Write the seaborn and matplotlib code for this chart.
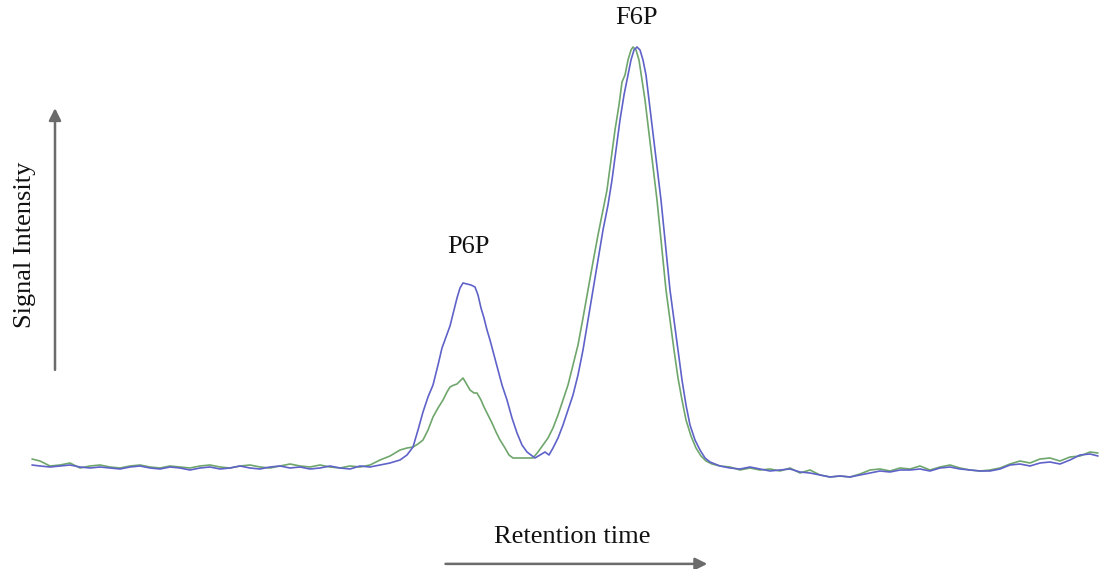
"""Chromatogram overlay: P6P and F6P peaks."""

import matplotlib

matplotlib.use("Agg")
import matplotlib.pyplot as plt
import numpy as np
import pandas as pd
import seaborn as sns

# retention time (arbitrary units) and signal intensity
left_time = [32, 40, 50, 60, 70, 80, 90, 100, 110, 120, 130, 140, 150, 160, 170, 180,
             190, 200, 210, 220, 230, 240, 250, 260, 270, 280, 290, 300, 310, 320, 330,
             340, 350, 360, 370, 380]
right_time = [730, 740, 750, 760, 770, 780, 790, 800, 810, 820, 830, 840, 850, 860, 870,
              880, 890, 900, 910, 920, 930, 940, 950, 960, 970, 980, 990, 1000, 1010,
              1020, 1030, 1040, 1050, 1060, 1070, 1080, 1090, 1098]

blue_peak_time = [390, 400, 407, 413, 418, 423, 428, 433, 438, 442, 446, 450, 454, 457,
                  460, 463, 467, 471, 475, 478, 481, 484, 487, 490, 494, 498, 502, 507,
                  512, 517, 522, 527, 531, 535, 540, 545, 549, 553, 558, 563, 568, 573,
                  578, 583, 588, 593, 598, 603, 608, 612, 616, 620, 624, 628, 631, 634,
                  637, 640, 643, 646, 649, 652, 655, 658, 661, 664, 667, 670, 674, 678,
                  682, 686, 690, 695, 700, 705, 710, 715, 720]
blue_left = [5, 4, 3, 4, 5, 3, 2, 3, 2, 1, 3, 4, 2, 1, 3, 2, 0, 2, 3, 1, 2, 4, 2, 1, 3,
             4, 2, 3, 1, 2, 4, 2, 1, 4, 3, 5]
blue_peak = [7, 10, 15, 23, 40, 58, 73, 85, 105, 122, 133, 144, 160, 172, 182, 187, 186,
             185, 183, 175, 162, 152, 140, 130, 115, 100, 85, 70, 52, 37, 25, 18, 15, 12,
             15, 18, 15, 22, 32, 45, 60, 75, 95, 120, 150, 180, 210, 240, 265, 290, 320,
             350, 375, 395, 410, 420, 423, 420, 410, 395, 370, 345, 320, 295, 270, 240,
             210, 180, 150, 120, 90, 65, 45, 30, 20, 12, 8, 6, 4]
blue_right = [2, 1, 3, 1, -1, 0, 1, -2, -3, -5, -7, -6, -7, -5, -3, -1, -2, 0, 0, 1, -1,
              2, 3, 1, 0, -1, -1, 1, 5, 6, 4, 7, 8, 6, 10, 15, 16, 14]

green_peak_time = [390, 400, 407, 413, 418, 423, 428, 433, 438, 443, 447, 450, 454, 457,
                   460, 463, 466, 470, 474, 477, 481, 484, 487, 492, 496, 500, 505, 509,
                   513, 520, 527, 533, 538, 543, 548, 553, 558, 563, 568, 573, 578, 583,
                   588, 593, 598, 603, 607, 611, 615, 619, 622, 625, 628, 631, 633, 636,
                   639, 642, 645, 648, 651, 654, 657, 660, 663, 666, 670, 674, 678, 682,
                   686, 691, 696, 701, 706, 712, 720]
green_left = [11, 9, 4, 5, 7, 2, 4, 5, 3, 2, 4, 5, 3, 2, 4, 3, 2, 4, 5, 3, 2, 4, 5, 3, 2,
              4, 6, 4, 3, 5, 3, 2, 4, 3, 5, 10]
green_peak = [14, 20, 22, 23, 26, 30, 40, 53, 62, 70, 78, 83, 85, 86, 89, 92, 87, 80, 77,
              77, 70, 63, 57, 47, 38, 30, 22, 15, 12, 12, 12, 12, 18, 25, 32, 42, 55, 70,
              85, 105, 125, 152, 180, 208, 235, 260, 280, 310, 340, 365, 388, 395, 410,
              420, 423, 420, 410, 390, 370, 345, 320, 295, 270, 240, 210, 180, 150, 120,
              92, 70, 50, 34, 22, 14, 9, 6, 4]
green_right = [3, 0, 2, 0, 1, -1, 2, -3, 0, -5, -7, -6, -7, -4, 0, 1, -1, 2, 1, 4, 0, 3, 5,
               2, 0, -1, 0, 2, 6, 9, 7, 11, 12, 9, 13, 14, 18, 17]

peak_names = ["P6P", "F6P"]
peak_label_time = [468, 636]
peak_label_height = [223, 452]

BLUE = "#5f62c8"
GREEN = "#6fa66c"
GREY = "#6b6b6b"

blue = pd.DataFrame({"time": left_time + blue_peak_time + right_time,
                     "signal": blue_left + blue_peak + blue_right})
green = pd.DataFrame({"time": left_time + green_peak_time + right_time,
                      "signal": green_left + green_peak + green_right})

sns.set_style("white")
plt.rcParams["font.family"] = ["Liberation Serif", "DejaVu Serif"]

fig = plt.figure(figsize=(11, 5.69), dpi=100)
ax = fig.add_axes([0, 0, 1, 1])
sns.lineplot(data=green, x="time", y="signal", color=GREEN, lw=1.2, ax=ax,
             estimator=None, sort=False)
sns.lineplot(data=blue, x="time", y="signal", color=BLUE, lw=1.2, ax=ax,
             estimator=None, sort=False)
ax.set_xlim(0, 1100)
ax.set_ylim(-99, 470)
ax.axis("off")

for name, t, h in zip(peak_names, peak_label_time, peak_label_height):
    ax.text(t, h, name, ha="center", va="center", fontsize=19, color="#111111")

arrow = dict(arrowstyle="-|>", color=GREY, lw=1.8, mutation_scale=18, shrinkA=0, shrinkB=0)
ax.annotate("", xy=(0.05, 0.81), xytext=(0.05, 0.35), xycoords="figure fraction",
            textcoords="figure fraction", arrowprops=arrow)
ax.annotate("", xy=(0.643, 0.009), xytext=(0.405, 0.009), xycoords="figure fraction",
            textcoords="figure fraction", arrowprops=arrow)
fig.text(0.023, 0.569, "Signal Intensity", rotation=90, ha="center", va="center",
         fontsize=19, color="#111111")
fig.text(0.52, 0.056, "Retention time", ha="center", va="center",
         fontsize=19, color="#111111")

fig.savefig("out.png", dpi=100)
plt.close(fig)
